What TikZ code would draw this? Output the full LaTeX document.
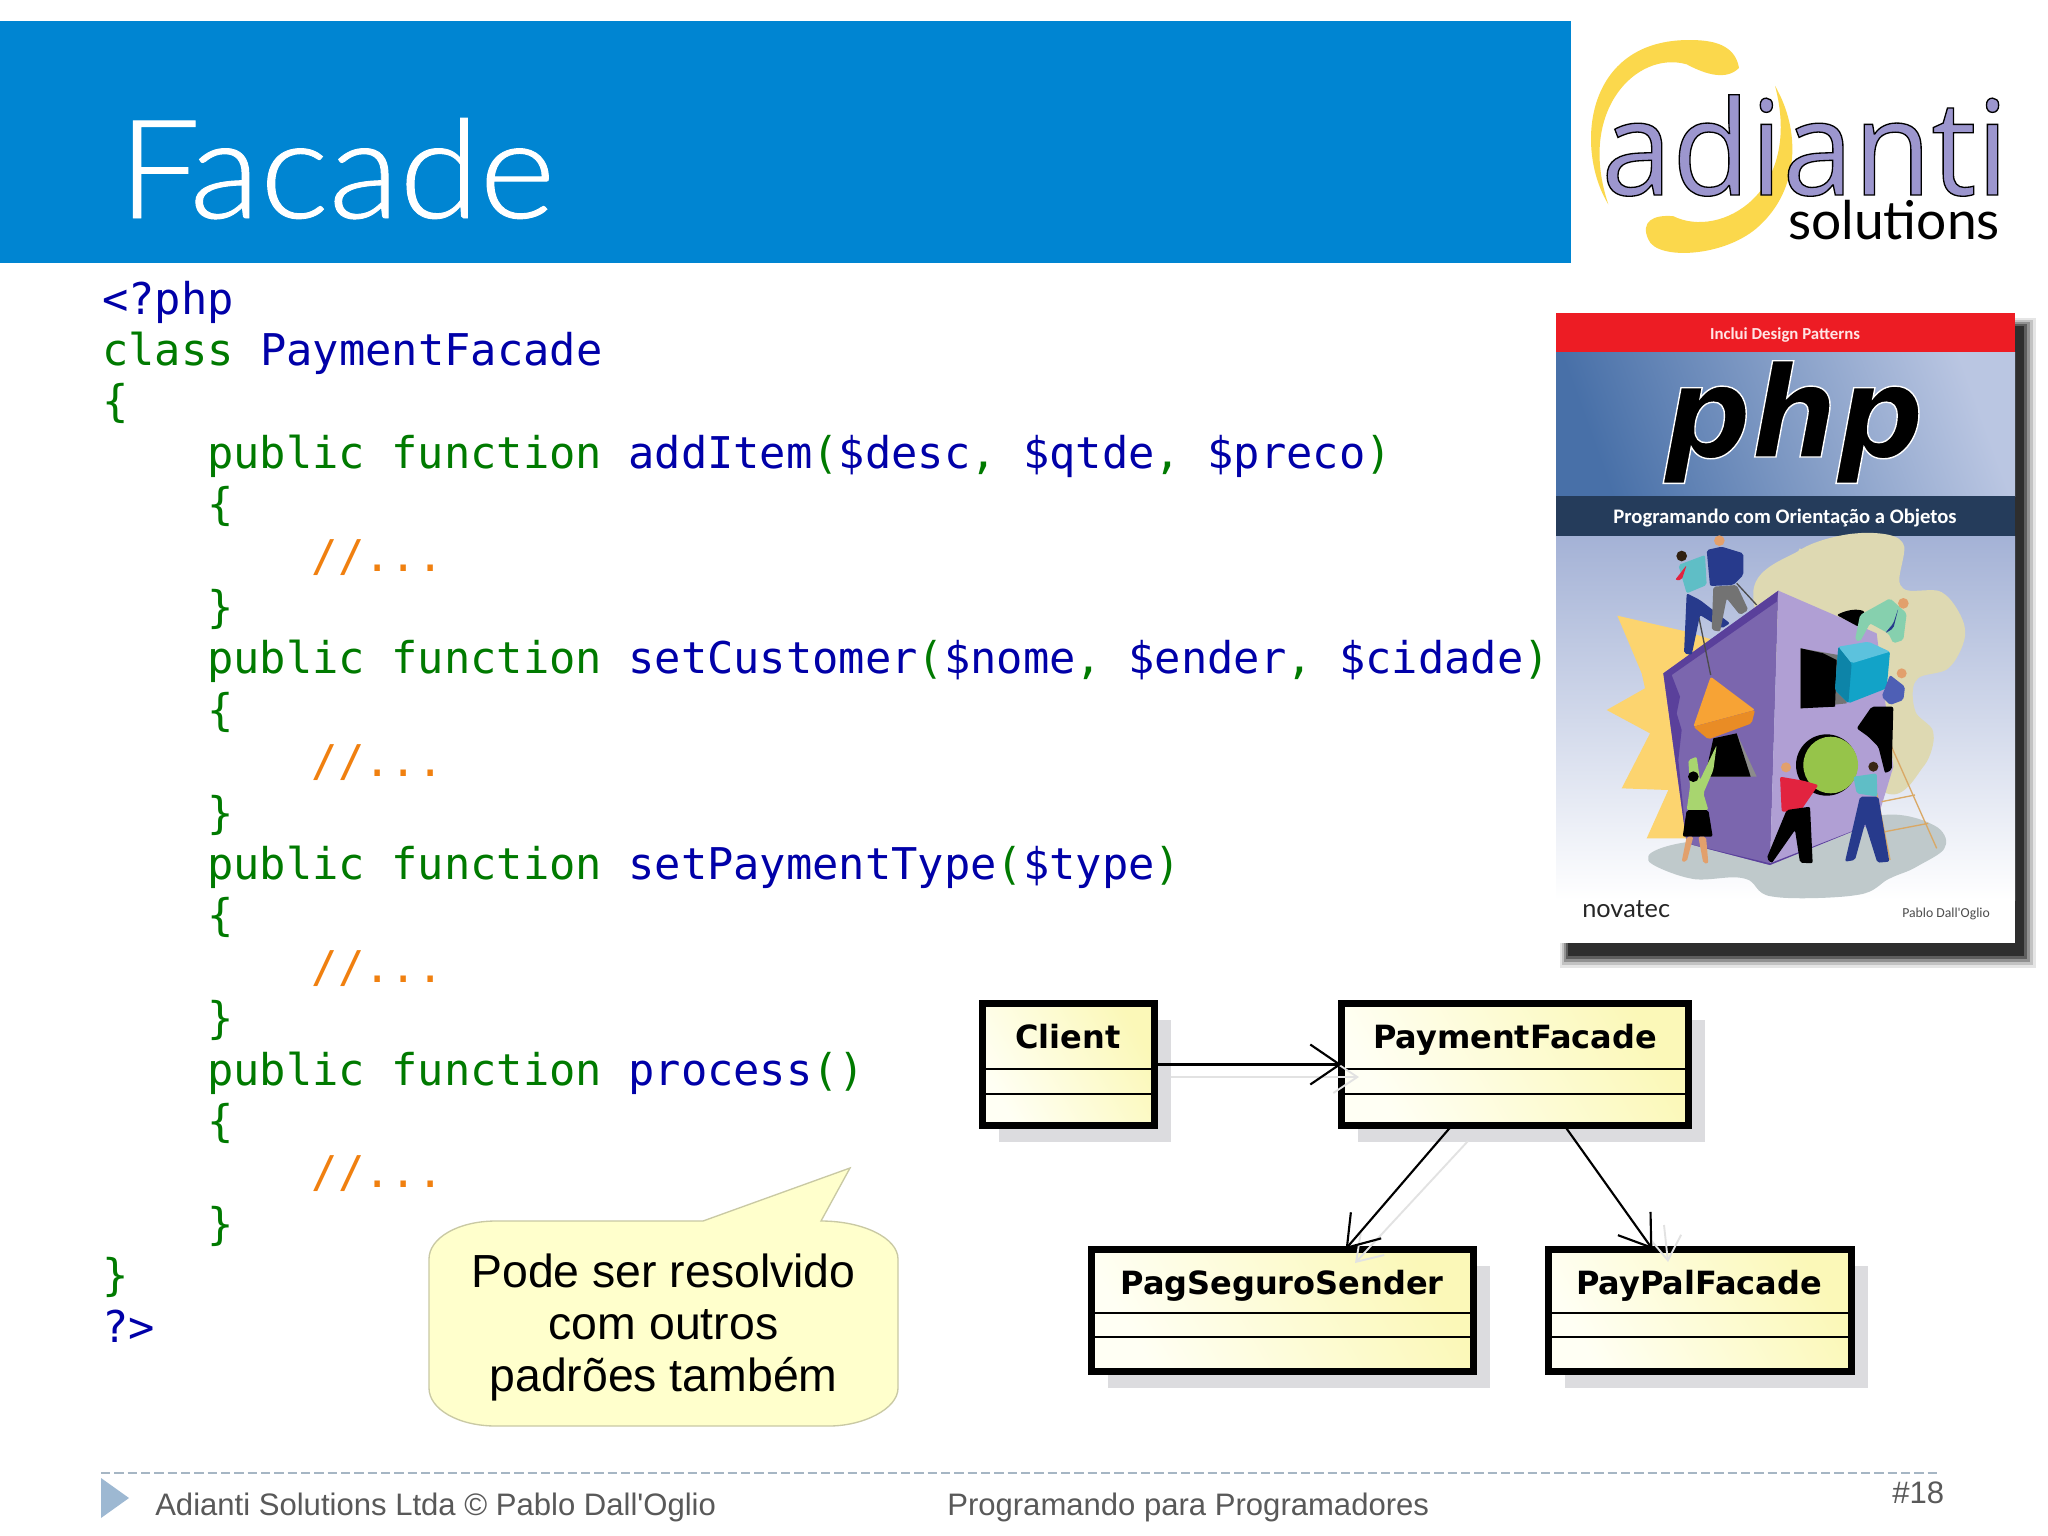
\documentclass[tikz,border=0pt]{standalone}
\usepackage{fontspec}
\usetikzlibrary{arrows.meta}
\usetikzlibrary{shadows}
\newfontfamily\codefont{DejaVu Sans Mono}
\newfontfamily\sansfont{Liberation Sans}
\newfontfamily\titlefont[FakeBold=0.7,FakeStretch=1.06]{Lato Light}
\newfontfamily\umlfont{DejaVu Sans}
\newfontfamily\logofont[FakeBold=1.0,FakeStretch=0.965]{Open Sans}
\newfontfamily\solfont{Lato}
\newfontfamily\bookfont{Carlito}
\newfontfamily\phpfont[BoldItalicFeatures={FakeBold=1.1,FakeStretch=0.955}]{DejaVu Sans}
\definecolor{headblue}{HTML}{0085D2}
\definecolor{codeblue}{HTML}{0000A8}
\definecolor{codegreen}{HTML}{007A00}
\definecolor{codeorange}{HTML}{F08010}
\definecolor{umlyellow}{HTML}{FBF8B8}
\definecolor{umlpale}{HTML}{FFFFF4}
\definecolor{umlshadow}{HTML}{DCDCDF}
\definecolor{umlghost}{HTML}{E2E2E2}
\definecolor{noteyellow}{HTML}{FFFFCC}
\definecolor{noteline}{HTML}{C9C9A4}
\definecolor{footgrey}{HTML}{595959}
\definecolor{footblue}{HTML}{9DB8D2}
\definecolor{footdash}{HTML}{A6B6C4}
\definecolor{ringyellow}{HTML}{FBD84C}
\definecolor{logolilac}{HTML}{9C96CE}
\definecolor{coverred}{HTML}{ED1C24}
\definecolor{coverband}{HTML}{253C5B}
\definecolor{coverdeep}{HTML}{4870A8}
\definecolor{coverlight}{HTML}{BAC6E2}
\definecolor{covertop}{HTML}{A4B2D6}
\definecolor{covermid}{HTML}{DEE4F1}
\definecolor{blob}{HTML}{DED9B2}
\definecolor{star}{HTML}{FCD46F}
\definecolor{ground}{HTML}{BFC9CB}
\definecolor{wallleft}{HTML}{7B66AE}
\definecolor{wallright}{HTML}{B09FD4}
\definecolor{walledge}{HTML}{5A409B}
\definecolor{navy}{HTML}{273A8C}
\definecolor{skin}{HTML}{E2A06C}
\definecolor{ballgreen}{HTML}{96C44A}
\definecolor{pyramidlight}{HTML}{F7A335}
\definecolor{pyramiddark}{HTML}{E98C25}
\definecolor{cubefront}{HTML}{12A3C8}
\definecolor{cubeside}{HTML}{0D84A8}
\definecolor{cubetop}{HTML}{5CC2DD}
\definecolor{shirtteal}{HTML}{5FBEC6}
\definecolor{shirtmint}{HTML}{86D0AE}
\definecolor{shirtlime}{HTML}{A8D56F}
\definecolor{shirtred}{HTML}{E2233F}
\definecolor{shirtblue}{HTML}{4E5FB5}
\definecolor{ladder}{HTML}{D9A865}
\newcommand{\kw}[1]{\textcolor{codegreen}{#1}}
\newcommand{\nm}[1]{\textcolor{codeblue}{#1}}
\tikzset{
	codeline/.style={anchor=base west,inner sep=0pt,font=\codefont\fontsize{32.8}{40}\selectfont},
	umlbox/.style={draw=black,line width=5.25pt,outer sep=0pt,inner sep=0pt,minimum height=91.5pt,
		left color=umlpale,right color=umlyellow,shading angle=120,
		general shadow={fill=umlshadow,shadow xshift=12pt,shadow yshift=-12.5pt}},
	umlname/.style={anchor=base,inner sep=0pt,font=\umlfont\fontsize{24}{28}\selectfont\bfseries},
	umlrule/.style={draw=black,line width=2.2pt},
	umllink/.style={draw=black,line width=1.6pt,-{Straight Barb[length=22pt,width=30pt,line width=1.6pt]}},
	umlecho/.style={draw=umlghost,line width=1.4pt,-{Straight Barb[length=18pt,width=24pt,line width=1.4pt]}},
	notetext/.style={anchor=base,inner sep=0pt,font=\sansfont\fontsize{34.8}{40}\selectfont},
	foottext/.style={anchor=base west,inner sep=0pt,text=footgrey,font=\sansfont\fontsize{23.3}{30}\selectfont},
	booktext/.style={anchor=base,inner sep=0pt,font=\bookfont\bfseries},
}
\begin{document}
\begin{tikzpicture}[x=0.75pt,y=-0.75pt]
	\useasboundingbox (0,0) rectangle (2048,1535);
	\fill[white] (0,0) rectangle (2048,1535);

	% header
	\fill[headblue] (0,21) rectangle (1571,263);
	\node[anchor=base west,inner sep=0pt,text=white,font=\titlefont\fontsize{103}{120}\selectfont] (title) at (118,218) {Facade};

	% logo
	\begin{scope}[shift={(1540,0)},x=0.25pt,y=-0.268pt]
		\fill[ringyellow] (205,572) .. controls (105,420) and (130,110) .. (450,112) .. controls (520,112) and (585,125) .. (597,190) .. controls (560,225) and (500,210) .. (440,180) .. controls (290,140) and (110,310) .. (205,572) -- cycle;
		\fill[ringyellow] (705,240) .. controls (785,370) and (775,530) .. (660,630) .. controls (560,720) and (350,730) .. (325,670) .. controls (300,620) and (340,600) .. (400,605) .. controls (540,670) and (790,540) .. (705,240) -- cycle;
	\end{scope}
	\node[anchor=base west,inner sep=0pt,text=logolilac,font=\logofont\fontsize{99}{110}\selectfont] (logoname) at (1601,195) {\special{pdf:code 0 0 0 RG}adianti};
	\node[anchor=base west,inner sep=0pt,text=black,font=\solfont\fontsize{40}{44}\selectfont] (logosub) at (1788,239) {solutions};

	% book cover
	\fill[black,opacity=0.10] (1560,318) rectangle (2036,968);
	\fill[black,opacity=0.15] (1562,320) rectangle (2033,965);
	\fill[black,opacity=0.25] (1564,322) rectangle (2030,962);
	\fill[black,opacity=0.35] (1566,324) rectangle (2027,959);
	\fill[black,opacity=0.50] (1568,326) rectangle (2024,956);
	\fill[white] (1556,313) rectangle (2015,943);
	\shade[left color=coverdeep,right color=coverlight,shading angle=110] (1556,352) rectangle (2015,496);
	\shade[top color=covertop,middle color=covermid,bottom color=white] (1556,536) rectangle (2015,900);
	\fill[coverred] (1556,313) rectangle (2015,352);
	\fill[coverband] (1556,496) rectangle (2015,536);
	\node[booktext,text=white!90!red,font=\bookfont\bfseries\fontsize{12.6}{16}\selectfont] (bookflag) at (1785,339) {Inclui Design Patterns};
	\node[anchor=base,inner sep=0pt,text=black,font=\phpfont\fontsize{95}{110}\selectfont\bfseries\itshape] (bookphp) at (1794,457) {\special{pdf:code 1 1 1 RG}php};
	\node[booktext,text=white,font=\bookfont\bfseries\fontsize{15.5}{18}\selectfont] (booksub) at (1785,523) {Programando com Orientação a Objetos};
	\node[anchor=base west,inner sep=0pt,text=black!85,font=\solfont\fontsize{19}{22}\selectfont] (bookpress) at (1582,917) {novatec};
	\node[anchor=base west,inner sep=0pt,text=black!70,font=\bookfont\fontsize{10.3}{14}\selectfont] (bookauthor) at (1902,917) {Pablo Dall'Oglio};

	% cover illustration
	\begin{scope}[shift={(1540,500)},x=0.25pt,y=-0.25pt,rounded corners=1.5pt]
		\fill[blob] plot[smooth cycle,tension=0.55] coordinates {(640,290) (780,150) (950,100) (1085,125) (1085,260) (1210,280) (1275,390) (1230,500) (1130,540) (1125,630) (1180,700) (1150,800) (1040,880) (800,700)};
		\begin{scope}[sharp corners]
			\fill[star] (232,347) -- (440,395) -- (520,420) -- (520,1015) -- (320,1015) -- (385,870) -- (245,865) -- (330,700) -- (200,630) -- (315,565) -- (305,520) -- cycle;
		\end{scope}
		\fill[ground] plot[smooth cycle,tension=0.6] coordinates {(325,1075) (450,1025) (800,1010) (1030,945) (1180,975) (1215,1040) (1130,1100) (1050,1135) (950,1185) (700,1190) (610,1135) (450,1135)};
		\begin{scope}[sharp corners]
			\fill[wallleft] (370,520) -- (715,272) -- (690,1095) -- (440,1030) -- cycle;
			\fill[wallright] (715,272) -- (1010,400) -- (1060,800) -- (1010,965) -- (690,1095) -- cycle;
			\fill[walledge] (370,520) -- (715,272) -- (710,305) -- (395,525) -- (420,590) -- (410,640) -- (425,690) -- (415,780) -- (440,1030) -- cycle;
			\fill[walledge] (440,1030) -- (690,1090) -- (1010,965) -- (690,1095) -- cycle;
			\fill[black!55] (782,445) -- (895,465) -- (920,610) -- (782,625) -- cycle;
			\fill[black] (782,445) -- (850,460) -- (890,480) -- (885,620) -- (782,625) -- cycle;
			\fill[black!45] (590,700) -- (650,830) -- (500,830) -- cycle;
			\fill[black] (520,715) -- (590,700) -- (632,830) -- (495,830) -- cycle;
		\end{scope}
		\fill[black] (890,345) .. controls (920,330) and (950,325) .. (975,335) -- (955,380) -- cycle;
		\fill[black] (860,795) circle[radius=92];
		\fill[ballgreen] (872,795) circle[x radius=82,y radius=85];
		% ropes and pyramid
		\draw[black!70,line width=1pt] (470,320) -- (512,525);
		\draw[black!70,line width=1pt] (590,250) -- (650,315);
		\fill[pyramidlight] (512,530) -- (645,630) -- (460,680) -- cycle;
		\fill[pyramiddark] (460,680) -- (645,630) -- (635,670) -- (505,718) -- cycle;
		% cube
		\fill[cubefront] (895,440) -- (1050,455) -- (1040,565) -- (925,610) -- (885,570) -- cycle;
		\fill[cubeside] (895,440) -- (935,490) -- (925,610) -- (885,570) -- cycle;
		\fill[cubetop] (895,440) -- (985,425) -- (1050,455) -- (935,490) -- cycle;
		% ladder
		\draw[ladder,line width=1pt] (1050,730) -- (1190,1045) (1010,880) -- (1050,1080) (1025,905) -- (1125,885) (1035,995) -- (1165,970);
		% figures on the roof
		\fill[navy] (440,280) -- (480,300) -- (570,370) -- (545,385) -- (480,345) -- (455,465) -- (432,460) -- cycle;
		\fill[black!55] (520,260) -- (590,255) -- (625,330) -- (600,345) -- (560,295) -- (540,395) -- (515,390) -- cycle;
		\fill[navy] (500,150) -- (545,140) -- (610,160) -- (610,225) -- (580,255) -- (510,258) -- cycle;
		\fill[shirtteal] (415,195) -- (495,165) -- (500,255) -- (440,280) -- cycle;
		\fill[shirtred] (440,195) -- (405,240) -- (425,240) -- cycle;
		\fill[black!75!brown] (425,168) circle[radius=16];
		\fill[skin] (538,122) circle[radius=16];
		% figures on the right
		\fill[shirtmint] (960,345) -- (1050,295) -- (1100,340) -- (1090,420) -- (1060,430) -- (1045,400) -- (990,370) -- (960,425) -- (945,420) -- cycle;
		\fill[navy] (1075,325) -- (1060,370) -- (1035,400) -- (1060,385) -- cycle;
		\fill[skin] (1090,310) circle[radius=16];
		\fill[shirtblue] (1050,525) -- (1095,560) -- (1090,600) -- (1050,615) -- (1025,590) -- cycle;
		\fill[skin] (1085,520) circle[radius=15];
		\fill[black] (950,685) -- (995,620) -- (1060,620) -- (1055,810) -- (1035,820) -- (1015,740) -- (985,710) -- cycle;
		% figures at the base
		\fill[skin] (738,802) circle[radius=15];
		\fill[shirtred] (720,830) -- (790,842) -- (835,855) -- (780,935) -- (725,935) -- cycle;
		\fill[black] (740,930) -- (810,920) -- (818,1090) -- (780,1088) -- (765,990) -- (695,1090) -- (680,1075) -- cycle;
		\fill[shirtteal] (940,830) -- (1010,820) -- (1012,890) -- (950,880) -- cycle;
		\fill[black!70!brown] (1000,800) circle[radius=15];
		\fill[navy] (960,890) -- (1015,890) -- (1048,1085) -- (1012,1088) -- (975,970) -- (945,1080) -- (915,1085) -- cycle;
		\fill[shirtlime] (445,780) -- (470,770) -- (480,840) -- (530,735) -- (520,810) -- (490,880) -- (505,930) -- (440,930) -- (450,860) -- cycle;
		\fill[black] (440,930) -- (505,930) -- (518,1010) -- (428,1010) -- cycle;
		\fill[skin] (440,1010) -- (460,1010) -- (440,1085) -- (425,1085) -- cycle;
		\fill[skin] (475,1010) -- (498,1010) -- (505,1090) -- (490,1090) -- cycle;
		\fill[black] (460,830) circle[radius=16];
	\end{scope}

	% code
	\node[codeline] (phpopen) at (102,314) {\nm{<?php}};
	\node[codeline] (classline) at (102,365.4) {\kw{class} \nm{PaymentFacade}};
	\node[codeline] (classopen) at (102,416.8) {\kw{\{}};
	\node[codeline] (additem) at (206.8,468.2) {\kw{public function} \nm{addItem}\kw{(}\nm{\$desc}\kw{,} \nm{\$qtde}\kw{,} \nm{\$preco}\kw{)}};
	\node[codeline] (additemopen) at (206.8,519.6) {\kw{\{}};
	\node[codeline,text=codeorange] (additemnote) at (311.6,571) {//...};
	\node[codeline] (additemclose) at (206.8,622.4) {\kw{\}}};
	\node[codeline] (setcustomer) at (206.8,673.8) {\kw{public function} \nm{setCustomer}\kw{(}\nm{\$nome}\kw{,} \nm{\$ender}\kw{,} \nm{\$cidade}\kw{)}};
	\node[codeline] (setcustomeropen) at (206.8,725.2) {\kw{\{}};
	\node[codeline,text=codeorange] (setcustomernote) at (311.6,776.6) {//...};
	\node[codeline] (setcustomerclose) at (206.8,828) {\kw{\}}};
	\node[codeline] (settype) at (206.8,879.4) {\kw{public function} \nm{setPaymentType}\kw{(}\nm{\$type}\kw{)}};
	\node[codeline] (settypeopen) at (206.8,930.8) {\kw{\{}};
	\node[codeline,text=codeorange] (settypenote) at (311.6,982.2) {//...};
	\node[codeline] (settypeclose) at (206.8,1033.6) {\kw{\}}};
	\node[codeline] (process) at (206.8,1085) {\kw{public function} \nm{process}\kw{()}};
	\node[codeline] (processopen) at (206.8,1136.4) {\kw{\{}};
	\node[codeline,text=codeorange] (processnote) at (311.6,1187.8) {//...};
	\node[codeline] (processclose) at (206.8,1239.2) {\kw{\}}};
	\node[codeline] (classclose) at (102,1290.6) {\kw{\}}};
	\node[codeline] (phpclose) at (102,1342) {\nm{?>}};

	% note
	\draw[fill=noteyellow,draw=noteline,line width=1pt] (703,1221) -- (850,1168) -- (821,1221) .. controls (863,1221) and (898,1238) .. (898,1259) -- (898,1388) .. controls (898,1409) and (863,1426) .. (829,1426) -- (496,1426) .. controls (458,1426) and (429,1409) .. (429,1388) -- (429,1259) .. controls (429,1238) and (458,1221) .. (496,1221) -- cycle;
	\node[notetext] (noteone) at (663.5,1287) {Pode ser resolvido};
	\node[notetext] (notetwo) at (663.5,1339) {com outros};
	\node[notetext] (notethree) at (663.5,1391) {padrões também};

	% uml
	\node[umlbox,minimum width=129pt] (client) at (1068.5,1064.5) {};
	\node[umlbox,minimum width=260.25pt] (payfacade) at (1515,1064.5) {};
	\node[umlbox,minimum width=286.5pt] (pagseguro) at (1282.5,1310) {};
	\node[umlbox,minimum width=227.25pt] (paypal) at (1700,1310) {};
	\draw[umlrule] (client.west |- 0,1069) -- (client.east |- 0,1069) (client.west |- 0,1094) -- (client.east |- 0,1094);
	\draw[umlrule] (payfacade.west |- 0,1069) -- (payfacade.east |- 0,1069) (payfacade.west |- 0,1094) -- (payfacade.east |- 0,1094);
	\draw[umlrule] (pagseguro.west |- 0,1313) -- (pagseguro.east |- 0,1313) (pagseguro.west |- 0,1337) -- (pagseguro.east |- 0,1337);
	\draw[umlrule] (paypal.west |- 0,1313) -- (paypal.east |- 0,1313) (paypal.west |- 0,1337) -- (paypal.east |- 0,1337);
	\node[umlname] (clientname) at (1068,1048) {Client};
	\node[umlname] (payfacadename) at (1515,1048) {PaymentFacade};
	\node[umlname] (pagseguroname) at (1282,1294) {PagSeguroSender};
	\node[umlname] (paypalname) at (1699,1294) {PayPalFacade};
	\coordinate (echoastart) at (1171,1077);
	\coordinate (echoaend) at (1359,1077);
	\coordinate (echobstart) at (1468,1141);
	\coordinate (echobend) at (1355,1263);
	\coordinate (echocstart) at (1664,1225);
	\coordinate (echocend) at (1668,1262);
	\draw[umlecho] (echoastart) -- (echoaend);
	\draw[umlecho] (echobstart) -- (echobend);
	\draw[umlecho] (echocstart) -- (echocend);
	\draw[umllink] (client.east) -- (payfacade.west);
	\draw[umllink] (payfacade.224.5) -- (pagseguro.44.5);
	\draw[umllink] (payfacade.-51.8) -- (paypal.128.4);

	% footer
	\coordinate (dashstart) at (101,1473);
	\coordinate (dashend) at (1941,1473);
	\draw[footdash,line width=1.2pt,dash pattern=on 7pt off 3pt] (dashstart) -- (dashend);
	\fill[footblue] (101,1478) -- (129,1498) -- (101,1518) -- cycle;
	\node[foottext] (footleft) at (155,1515) {Adianti Solutions Ltda © Pablo Dall'Oglio};
	\node[foottext] (footmid) at (947,1515) {Programando para Programadores};
	\node[foottext] (footnum) at (1892,1503) {\#18};
\end{tikzpicture}
\end{document}
